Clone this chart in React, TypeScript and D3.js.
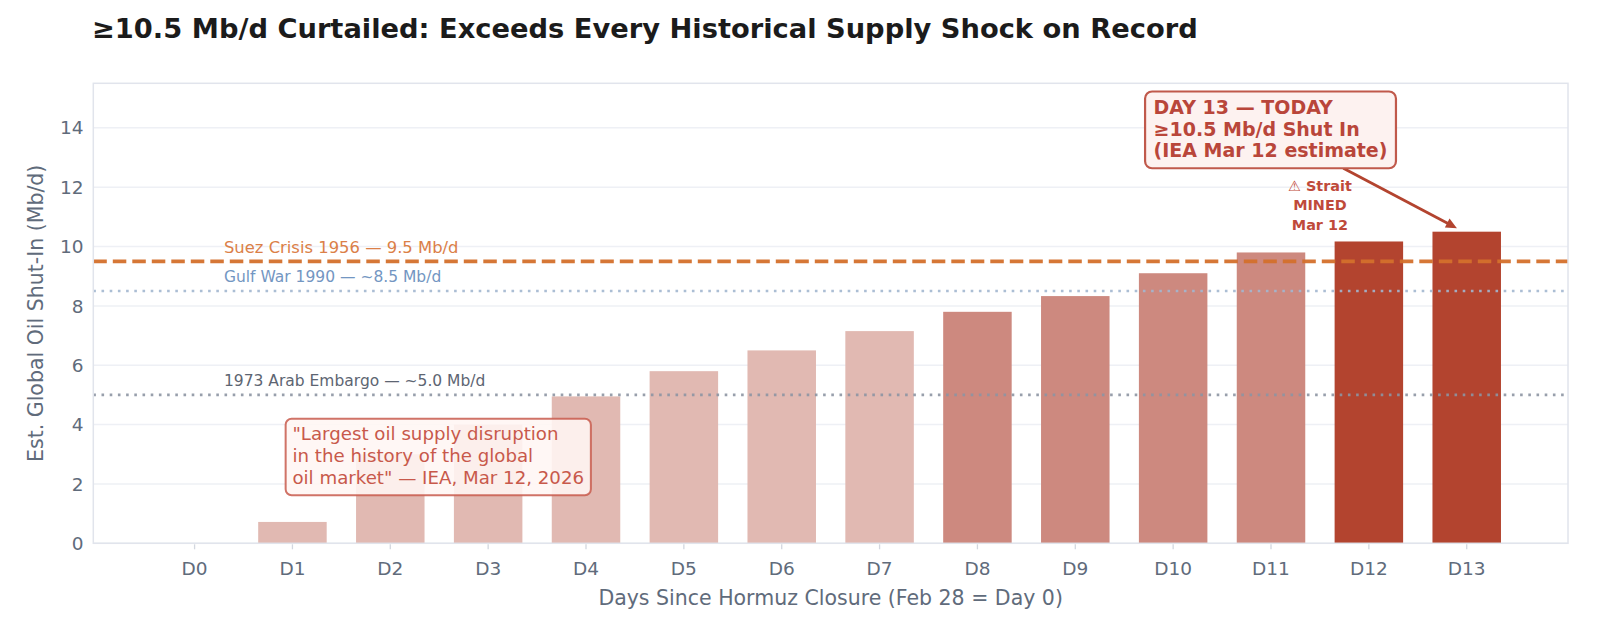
import React from 'react';
import * as d3 from 'd3';

const days = ['D0', 'D1', 'D2', 'D3', 'D4', 'D5', 'D6', 'D7', 'D8', 'D9', 'D10', 'D11', 'D12', 'D13'];
const shutIn = [0, 0.72, 3.0, 4.0, 4.95, 5.8, 6.5, 7.15, 7.8, 8.33, 9.1, 9.8, 10.17, 10.5];
const phase = ['low', 'low', 'low', 'low', 'low', 'low', 'low', 'low', 'mid', 'mid', 'mid', 'mid', 'high', 'high'];
const yTicks = [0, 2, 4, 6, 8, 10, 12, 14];
const refLevels = [9.5, 8.5, 5.0];
const refLabels = ['Suez Crisis 1956 — 9.5 Mb/d', 'Gulf War 1990 — ~8.5 Mb/d', '1973 Arab Embargo — ~5.0 Mb/d'];
const refKinds = ['dashed', 'dotted', 'dotted'];
const quoteLines = ['"Largest oil supply disruption', 'in the history of the global', 'oil market" — IEA, Mar 12, 2026'];
const todayLines = ['DAY 13 — TODAY', '≥10.5 Mb/d Shut In', '(IEA Mar 12 estimate)'];
const minedLines = ['⚠ Strait', 'MINED', 'Mar 12'];

const TITLE = '≥10.5 Mb/d Curtailed: Exceeds Every Historical Supply Shock on Record';
const XLABEL = 'Days Since Hormuz Closure (Feb 28 = Day 0)';
const YLABEL = 'Est. Global Oil Shut-In (Mb/d)';

const W = 1608;
const H = 624;
const FONT = '"DejaVu Sans", Verdana, sans-serif';

const phaseColor: Record<string, string> = { low: '#e1b9b2', mid: '#cd897f', high: '#b3442f' };
const refLine = [
  { stroke: '#d4702c', width: 3.6, dash: '13.5 6', text: '#db8048', fs: 16.4 },
  { stroke: '#a3b7d0', width: 2.6, dash: '2.6 5.6', text: '#7396c2', fs: 15.5 },
  { stroke: '#8d95a3', width: 2.6, dash: '2.6 5.6', text: '#5d6572', fs: 15.5 },
];

let ctx: CanvasRenderingContext2D | null = null;
function measure(text: string, font: string): number {
  if (!ctx) ctx = document.createElement('canvas').getContext('2d');
  if (!ctx) return text.length * 10;
  ctx.font = font;
  return ctx.measureText(text).width;
}

export default function App() {
  const x = d3.scaleLinear().domain([-1.035, 14.035]).range([93.3, 1568]);
  const y = d3.scaleLinear().domain([0, 15.5]).range([543.3, 83.3]);
  const barW = x(0.7) - x(0);
  const [x0, x1] = x.range();
  const [yb, yt] = y.range();

  // quote box
  const qFs = 18.2;
  const qLH = 22;
  const qX = x(1.0);
  const qY0 = y(3.48);
  const qW = Math.max(...quoteLines.map((l) => measure(l, `${qFs}px ${FONT}`)));
  const qPad = 6.8;
  const qBox = {
    x: qX - qPad,
    y: qY0 - qFs * 0.74 - qPad - 1,
    w: qW + qPad * 2,
    h: qFs * 0.74 + qLH * 2 + qFs * 0.24 + qPad * 2 + 1,
  };

  // today box
  const tFs = 19;
  const tLH = 21.7;
  const tX = x(9.8);
  const tY0 = y(14.47);
  const tW = Math.max(...todayLines.map((l) => measure(l, `bold ${tFs}px ${FONT}`)));
  const tPad = 8.5;
  const tTop = tY0 - tFs * 0.73 - tPad;
  const tBottom = tY0 + tLH * 2 + 11;
  const tBox = { x: tX - tPad, y: tTop, w: tW + tPad * 2, h: tBottom - tTop };
  // arrow from box center toward target, clipped at box edge
  const cx = tBox.x + tBox.w / 2;
  const cy = tBox.y + tBox.h / 2;
  const tx = x(12.9);
  const ty = y(10.62);
  const dx = tx - cx;
  const dy = ty - cy;
  const tClip = Math.min((tBox.h / 2) / Math.abs(dy), (tBox.w / 2) / Math.abs(dx));
  const sx = cx + dx * tClip;
  const sy = cy + dy * tClip;
  const len = Math.hypot(dx, dy);
  const ux = dx / len;
  const uy = dy / len;
  const headL = 11;
  const headW = 5;
  const bx = tx - ux * headL;
  const by = ty - uy * headL;
  const head = `${tx},${ty} ${bx - uy * headW},${by + ux * headW} ${bx + uy * headW},${by - ux * headW}`;

  return (
    <svg width={W} height={H} style={{ position: 'absolute', left: 0, top: 0, background: '#fff' }} fontFamily={FONT}>
      <rect x={0} y={0} width={W} height={H} fill="#ffffff" />
      <text x={92} y={37.5} fontSize={27.3} fontWeight="bold" fill="#1b1b1b">{TITLE}</text>

      {/* grid */}
      {yTicks.map((t) => (
        <line key={'g' + t} x1={x0} x2={x1} y1={y(t)} y2={y(t)} stroke="#eef0f5" strokeWidth={1.5} />
      ))}

      {/* bars */}
      {shutIn.map((v, i) => (
        <rect
          key={'b' + i}
          x={x(i) - barW / 2}
          y={y(v)}
          width={barW}
          height={Math.max(0, yb - y(v))}
          fill={phaseColor[phase[i]]}
        />
      ))}

      {/* reference lines */}
      {refLevels.map((v, i) => (
        <g key={'r' + i}>
          <line
            x1={x0}
            x2={x1}
            y1={y(v)}
            y2={y(v)}
            stroke={refLine[i].stroke}
            strokeWidth={refLine[i].width}
            strokeDasharray={refLine[i].dash}
            opacity={refKinds[i] === 'dashed' ? 0.95 : 0.9}
          />
          <text x={x(0.3)} y={y(v + 0.29)} fontSize={refLine[i].fs} fill={refLine[i].text}>{refLabels[i]}</text>
        </g>
      ))}

      {/* spines */}
      <rect x={x0} y={yt} width={x1 - x0} height={yb - yt} fill="none" stroke="#e1e4ec" strokeWidth={1.5} />

      {/* x ticks */}
      {days.map((d, i) => (
        <g key={'x' + i}>
          <line x1={x(i)} x2={x(i)} y1={yb + 1} y2={yb + 6} stroke="#d3d7df" strokeWidth={1.3} />
          <text x={x(i)} y={574.5} textAnchor="middle" fontSize={18.5} fill="#606b7b">{d}</text>
        </g>
      ))}
      {/* y ticks */}
      {yTicks.map((t) => (
        <text key={'y' + t} x={83.5} y={y(t)} dy="0.36em" textAnchor="end" fontSize={18.5} fill="#606b7b">{t}</text>
      ))}

      <text x={(x0 + x1) / 2} y={604.5} textAnchor="middle" fontSize={20.5} fill="#606b7b">{XLABEL}</text>
      <text transform={`translate(42.5, ${(yb + yt) / 2}) rotate(-90)`} textAnchor="middle" fontSize={20.5} fill="#606b7b">{YLABEL}</text>

      {/* quote box */}
      <rect x={qBox.x} y={qBox.y} width={qBox.w} height={qBox.h} rx={6} fill="#fff6f4" fillOpacity={0.88} stroke="#c85a4c" strokeWidth={2} strokeOpacity={0.85} />
      {quoteLines.map((l, i) => (
        <text key={'q' + i} x={qX} y={qY0 + i * qLH} fontSize={qFs} fill="#c8594b">{l}</text>
      ))}

      {/* mined label */}
      {minedLines.map((l, i) => (
        <text key={'m' + i} x={x(11.5)} y={y(10.56) - (minedLines.length - 1 - i) * 19.7} textAnchor="middle" fontSize={14.4} fontWeight="bold" fill="#bf4a3a">{l}</text>
      ))}

      {/* arrow */}
      <line x1={sx} y1={sy} x2={bx + ux * 2} y2={by + uy * 2} stroke="#b3442f" strokeWidth={2.8} />
      <polygon points={head} fill="#b3442f" />

      {/* today box */}
      <rect x={tBox.x} y={tBox.y} width={tBox.w} height={tBox.h} rx={7} fill="#fdf2f0" stroke="#c0594b" strokeWidth={2.2} />
      {todayLines.map((l, i) => (
        <text key={'t' + i} x={tX} y={tY0 + i * tLH} fontSize={tFs} fontWeight="bold" fill="#b9463a">{l}</text>
      ))}
    </svg>
  );
}
